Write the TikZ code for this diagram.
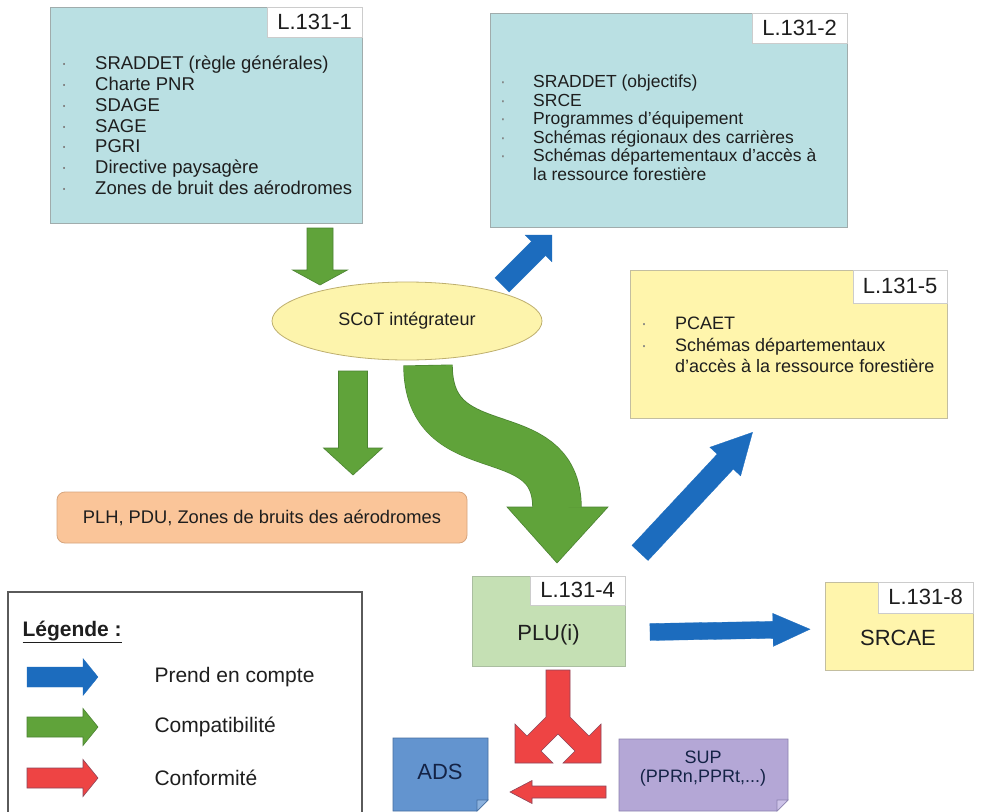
\documentclass[tikz,border=0pt]{standalone}
\usepackage{fontspec}
\setmainfont{Liberation Sans}
\usetikzlibrary{shapes.geometric}
\definecolor{cyanbox}{RGB}{186,224,227}
\definecolor{cyanedge}{RGB}{160,172,172}
\definecolor{yelbox}{RGB}{255,245,172}
\definecolor{yeledge}{RGB}{195,190,160}
\definecolor{ellfill}{RGB}{253,244,172}
\definecolor{elledge}{RGB}{190,175,110}
\definecolor{peach}{RGB}{250,197,153}
\definecolor{peachedge}{RGB}{215,165,125}
\definecolor{plugreen}{RGB}{197,224,180}
\definecolor{pluedge}{RGB}{170,190,160}
\definecolor{adsblue}{RGB}{99,148,207}
\definecolor{adsedge}{RGB}{70,110,160}
\definecolor{adsfold}{RGB}{140,178,222}
\definecolor{adstext}{RGB}{20,35,70}
\definecolor{suppurple}{RGB}{180,167,214}
\definecolor{supedge}{RGB}{140,130,175}
\definecolor{supfold}{RGB}{205,195,232}
\definecolor{arrblue}{RGB}{28,108,190}
\definecolor{arrgreen}{RGB}{96,163,58}
\definecolor{arrgreenedge}{RGB}{75,130,50}
\definecolor{arrred}{RGB}{238,68,68}
\definecolor{arrrededge}{RGB}{140,70,90}
\definecolor{txt}{RGB}{30,30,30}
\definecolor{legedge}{RGB}{90,90,90}
\newcommand{\mybullet}{\textcolor{gray}{·}}
% #1 style, #2 tail, #3 angle, #4 length, #5 shaft half width, #6 head half width, #7 head length
\newcommand{\blockarrow}[7]{%
  \filldraw[#1,shift={(#2)},rotate=#3] (0,-#5) -- ({#4-#7},-#5) -- ({#4-#7},-#6) -- (#4,0) -- ({#4-#7},#6) -- ({#4-#7},#5) -- (0,#5) -- cycle;}
\tikzset{
  panel/.style={line width=0.8pt, inner sep=0pt},
  lbl/.style={fill=white, draw=black!20, line width=0.5pt, minimum width=95pt, anchor=north east, inner sep=0pt, font=\fontsize{22}{24}\selectfont},
  listtext/.style={inner sep=0pt, anchor=north west, align=left},
  greenarr/.style={fill=arrgreen, draw=arrgreenedge, line width=0.6pt},
  bluearr/.style={fill=arrblue, draw=arrblue, line width=0.3pt},
  redarr/.style={fill=arrred, draw=arrrededge, line width=0.6pt},
  every node/.style={text=txt}
}
\begin{document}
\begin{tikzpicture}[x=1pt,y=-1pt]
\useasboundingbox (0,0) rectangle (1001,811);
\clip (0,0) rectangle (1001,811);
\fill[white] (0,0) rectangle (1001,811);

% L.131-1
\node[panel, fill=cyanbox, draw=cyanedge, minimum width=312pt, minimum height=216pt] (b1) at (206,115) {};
\node[lbl, minimum height=30pt] (b1l) at (b1.north east) {L.131-1};
\node[listtext, font=\fontsize{18.5}{20.8}\selectfont] (b1t) at (61,55) {\begin{tabular}{@{}p{34pt}@{}l@{}}
\mybullet & SRADDET (règle générales)\\
\mybullet & Charte PNR\\
\mybullet & SDAGE\\
\mybullet & SAGE\\
\mybullet & PGRI\\
\mybullet & Directive paysagère\\
\mybullet & Zones de bruit des aérodromes
\end{tabular}};

% L.131-2
\node[panel, fill=cyanbox, draw=cyanedge, minimum width=357pt, minimum height=214pt] (b2) at (668.5,120) {};
\node[lbl, minimum height=30pt] (b2l) at (b2.north east) {L.131-2};
\node[listtext, font=\fontsize{17.5}{18.5}\selectfont] (b2t) at (500,74.5) {\begin{tabular}{@{}p{33pt}@{}l@{}}
\mybullet & SRADDET (objectifs)\\
\mybullet & SRCE\\
\mybullet & Programmes d’équipement\\
\mybullet & Schémas régionaux des carrières\\
\mybullet & Schémas départementaux d’accès à\\
 & la ressource forestière
\end{tabular}};

% L.131-5
\node[panel, fill=yelbox, draw=yeledge, minimum width=317pt, minimum height=148pt] (b5) at (788.5,344) {};
\node[lbl, minimum height=33pt, minimum width=94pt] (b5l) at (b5.north east) {L.131-5};
\node[listtext, font=\fontsize{18}{21.5}\selectfont] (b5t) at (641,314.5) {\begin{tabular}{@{}p{34pt}@{}l@{}}
\mybullet & PCAET\\
\mybullet & Schémas départementaux\\
 & d’accès à la ressource forestière
\end{tabular}};

% SCoT
\node[ellipse, draw=elledge, fill=ellfill, line width=0.8pt, minimum width=270pt, minimum height=78pt, inner sep=0pt, font=\fontsize{18}{20}\selectfont] (scot) at (407,321) {SCoT intégrateur};

% PLH
\node[panel, fill=peach, draw=peachedge, rounded corners=8pt, minimum width=410pt, minimum height=51pt, font=\fontsize{18.3}{20}\selectfont] (plh) at (262,517.5) {PLH, PDU, Zones de bruits des aérodromes};

% PLU
\node[panel, fill=plugreen, draw=pluedge, minimum width=153pt, minimum height=90pt] (plu) at (548.5,621) {};
\node[lbl, minimum height=29pt] (plul) at (plu.north east) {L.131-4};
\node[font=\fontsize{22}{24}\selectfont] (plut) at (548.5,635) {PLU(i)};

% L.131-8
\node[panel, fill=yelbox, draw=yeledge, minimum width=148pt, minimum height=88pt] (b8) at (899,626) {};
\node[lbl, minimum height=31pt] (b8l) at (b8.north east) {L.131-8};
\node[font=\fontsize{22}{24}\selectfont] (b8t) at (898,638) {SRCAE};

% ADS
\filldraw[fill=adsblue, draw=adsedge, line width=0.8pt] (393,738) -- (488,738) -- (488,800) -- (477,811) -- (393,811) -- cycle;
\filldraw[fill=adsfold, draw=adsedge, line width=0.6pt] (488,800) -- (477,800) -- (477,811) -- cycle;
\node[font=\fontsize{22}{24}\selectfont, text=adstext] (ads) at (440,772) {ADS};

% SUP
\filldraw[fill=suppurple, draw=supedge, line width=0.8pt] (619,739) -- (788,739) -- (788,800) -- (777,811) -- (619,811) -- cycle;
\filldraw[fill=supfold, draw=supedge, line width=0.6pt] (788,800) -- (777,800) -- (777,811) -- cycle;
\node[align=center, font=\fontsize{18}{18.5}\selectfont, text=adstext, inner sep=0pt] (sup) at (703,768.5) {SUP\\(PPRn,PPRt,...)};

% green arrows
\blockarrow{greenarr}{320,228}{-90}{57}{13}{27.5}{15}
\blockarrow{greenarr}{353,371}{-90}{104}{14.5}{29.5}{27}
% curved green arrow
\draw[arrgreenedge, line width=49.4pt] (428,365) .. controls (428,470) and (557,415) .. (557,508);
\filldraw[greenarr] (507,507) -- (608,507) -- (557,563) -- cycle;
\draw[arrgreen, line width=48pt] (428,365.6) .. controls (428,470) and (557,415) .. (557,508);

% blue arrows
\blockarrow{bluearr}{502,285}{45}{70.7}{10}{19}{19}
\blockarrow{bluearr}{640,553}{47}{165}{11}{21}{40}
\blockarrow{bluearr}{650,632}{1}{160}{8.5}{16.5}{37}

% red arrows
\filldraw[redarr] (546,670) -- (570,670) -- (570,717) -- (589,736) -- (601,724) -- (601,763) -- (563,763) -- (575,751) -- (558,734) -- (541,751) -- (553,763) -- (515,763) -- (515,724) -- (527,736) -- (546,717) -- cycle;
\blockarrow{redarr}{606,792}{180}{96}{6}{11.5}{22}

% legend
\draw[legedge, line width=1.2pt] (8,592) rectangle (362,830);
\node[anchor=west, font=\fontsize{21}{24}\selectfont\bfseries] (legt) at (19,632) {\underline{Légende :}};
\blockarrow{bluearr}{27,677}{0}{71}{10}{18.5}{15}
\blockarrow{greenarr}{27,727}{0}{71}{10}{18.5}{15}
\blockarrow{redarr}{27,778}{0}{71}{10}{18.5}{15}
\node[anchor=west, font=\fontsize{21}{24}\selectfont] (leg1) at (151,677) {Prend en compte};
\node[anchor=west, font=\fontsize{21}{24}\selectfont] (leg2) at (151,727) {Compatibilité};
\node[anchor=west, font=\fontsize{21}{24}\selectfont] (leg3) at (151,778) {Conformité};
\end{tikzpicture}
\end{document}
